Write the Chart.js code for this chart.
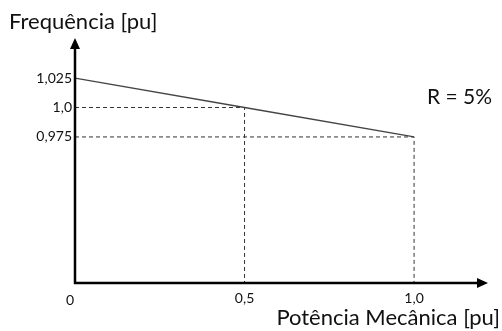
<!DOCTYPE html>
<html lang="pt">
<head>
  <meta charset="UTF-8">
  <script src="https://cdn.jsdelivr.net/npm/chart.js@4.4.0/dist/chart.umd.min.js"></script>
  <title>Estatismo</title>
  <style>
    html, body { margin: 0; padding: 0; background: #fff; }
    #wrap { width: 502px; height: 331px; position: relative; }
  </style>
</head>
<body>
<div id="wrap"><canvas id="chart"></canvas></div>
<script>
// valores
const potencia = [0, 0.5, 1.0];
const frequencia = [1.025, 1.0, 0.975];
const xTickValues = [0, 0.5, 1.0];
const xTickLabels = ['0', '0,5', '1,0'];
const yTickValues = [1.025, 1.0, 0.975];
const yTickLabels = ['1,025', '1,0', '0,975'];
const xMin = 0, xMax = 1.218;
const yMin = 0.851, yMax = 1.059;

const font = "Lato, 'Open Sans', sans-serif";

function dashed(px, fy) {
  return [{x: xMin, y: fy}, {x: px, y: fy}, {x: px, y: yMin}];
}

const axesPlugin = {
  id: 'axes',
  afterDatasetsDraw(chart) {
    const ctx = chart.ctx;
    const xs = chart.scales.x, ys = chart.scales.y;
    const x0 = xs.getPixelForValue(xMin), y0 = ys.getPixelForValue(yMin);
    const xEnd = xs.getPixelForValue(xMax), yEnd = ys.getPixelForValue(yMax);
    ctx.save();
    ctx.strokeStyle = '#000';
    ctx.fillStyle = '#000';
    ctx.lineWidth = 2.5;
    ctx.beginPath();
    ctx.moveTo(x0, y0 + 1);
    ctx.lineTo(x0, yEnd + 8);
    ctx.moveTo(x0 - 1, y0);
    ctx.lineTo(xEnd - 8, y0);
    ctx.stroke();
    // setas
    ctx.beginPath();
    ctx.moveTo(x0, yEnd);
    ctx.lineTo(x0 - 5, yEnd + 11);
    ctx.lineTo(x0 + 5, yEnd + 11);
    ctx.closePath();
    ctx.fill();
    ctx.beginPath();
    ctx.moveTo(xEnd, y0);
    ctx.lineTo(xEnd - 11, y0 - 5);
    ctx.lineTo(xEnd - 11, y0 + 5);
    ctx.closePath();
    ctx.fill();

    // rótulos
    ctx.fillStyle = '#111';
    ctx.font = '14px ' + font;
    ctx.textAlign = 'right';
    ctx.textBaseline = 'middle';
    yTickValues.forEach((v, i) => {
      ctx.fillText(yTickLabels[i], x0 - 3, ys.getPixelForValue(v));
    });
    ctx.textAlign = 'center';
    xTickValues.forEach((v, i) => {
      const dx = i === 0 ? -5 : 0;
      const dy = i === 0 ? 2 : 0;
      ctx.fillText(xTickLabels[i], xs.getPixelForValue(v) + dx, y0 + 15 + dy);
    });

    ctx.font = '22px ' + font;
    ctx.textAlign = 'left';
    ctx.fillText('Frequência [pu]', 9, 22);
    ctx.textAlign = 'right';
    ctx.fillText('Potência Mecânica [pu]', 500, 318);
    ctx.font = '21px ' + font;
    ctx.fillText('R = 5%', 492, 97);
    ctx.restore();
  }
};

new Chart(document.getElementById('chart'), {
  type: 'line',
  data: {
    datasets: [
      {
        data: potencia.map((p, i) => ({x: p, y: frequencia[i]})),
        borderColor: '#444',
        borderWidth: 1.3,
        pointRadius: 0,
        tension: 0
      },
      {
        data: dashed(potencia[1], frequencia[1]),
        borderColor: '#333',
        borderWidth: 1,
        borderDash: [4, 3],
        pointRadius: 0,
        tension: 0
      },
      {
        data: dashed(potencia[2], frequencia[2]),
        borderColor: '#333',
        borderWidth: 1,
        borderDash: [4, 3],
        pointRadius: 0,
        tension: 0
      }
    ]
  },
  options: {
    responsive: true,
    maintainAspectRatio: false,
    animation: false,
    layout: { padding: { left: 75, right: 14, top: 38, bottom: 48 } },
    plugins: { legend: { display: false }, tooltip: { enabled: false } },
    scales: {
      x: { type: 'linear', min: xMin, max: xMax, display: false },
      y: { type: 'linear', min: yMin, max: yMax, display: false }
    }
  },
  plugins: [axesPlugin]
});
</script>
</body>
</html>
